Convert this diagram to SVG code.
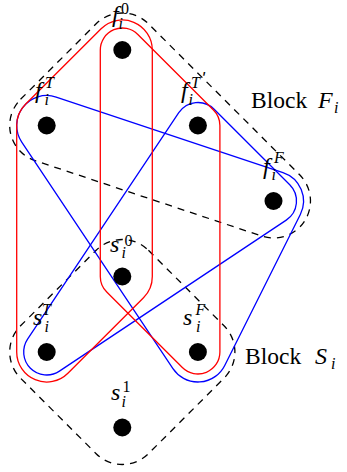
<svg xmlns="http://www.w3.org/2000/svg" width="347" height="472" viewBox="0 0 347 472">
<style>
.edge{fill:none;stroke-width:1.3}
.red{stroke:#ff0000}
.blue{stroke:#0000ff}
.blk{stroke:#000;stroke-dasharray:7 6}
.dot{fill:#000}
text{font-family:"Liberation Serif","Times New Roman",serif;fill:#000}
.m{font-style:italic;font-size:24px}
.sc{font-size:16px}
.si{font-style:italic;font-size:16px}
.pr{font-family:"Liberation Sans",sans-serif;font-size:17px;font-style:italic}
.lab{font-size:23.5px}
</style>
<rect width="347" height="472" fill="#fff"/>
<g id="connectors">
<path id="blockF" class="edge blk" d="M20.55,99.32 L96.15,23.82 A37,37 0 0 1 148.44,23.82 L299.64,174.82 A37,37 0 0 1 261.82,236.11 L35.02,160.61 A37,37 0 0 1 20.55,99.32 Z"/>
<path id="blockS" class="edge blk" d="M148.45,250.32 L224.05,325.82 A37,37 0 0 1 224.05,378.18 L148.45,453.68 A37,37 0 0 1 96.15,453.68 L20.55,378.18 A37,37 0 0 1 20.55,325.82 L96.15,250.32 A37,37 0 0 1 148.45,250.32 Z"/>
<path id="blue2" class="edge blue" d="M56.17,97.04 L282.97,172.54 A30,30 0 0 1 300.33,214.43 L224.73,365.43 A30,30 0 0 1 172.95,368.66 L21.75,142.16 A30,30 0 0 1 56.17,97.04 Z"/>
<path id="blue1" class="edge blue" d="M214.15,109.23 L289.75,184.73 A23,23 0 0 1 286.25,220.15 L59.45,371.15 A23,23 0 0 1 27.57,339.23 L178.77,112.73 A23,23 0 0 1 214.15,109.23 Z"/>
<path id="redA" class="edge red" d="M152.3,50 L152.3,276.5 A30,30 0 0 1 143.5,297.73 L67.9,373.23 A30,30 0 0 1 16.7,352 L16.7,125.5 A30,30 0 0 1 25.5,104.27 L101.1,28.77 A30,30 0 0 1 152.3,50 Z"/>
<path id="redB" class="edge red" d="M137.85,34.43 L213.45,109.93 A22,22 0 0 1 219.9,125.5 L219.9,352 A22,22 0 0 1 182.35,367.57 L106.75,292.07 A22,22 0 0 1 100.3,276.5 L100.3,50 A22,22 0 0 1 137.85,34.43 Z"/>
</g>
<g id="f0">
<circle class="dot" cx="122.3" cy="50" r="9"/>
<text class="m" x="112" y="22">f</text><text class="sc" x="121" y="13.5">0</text><text class="si" x="118.5" y="28.5">i</text>
</g>
<g id="fT">
<circle class="dot" cx="46.7" cy="125.5" r="9"/>
<text class="m" x="35" y="98">f</text><text class="si" x="45" y="87.5">T</text><text class="si" x="44.5" y="104.5">i</text>
</g>
<g id="fTp">
<circle class="dot" cx="197.9" cy="125.5" r="9"/>
<text class="m" x="181" y="98">f</text><text class="si" x="191" y="87.5">T</text><text class="pr" x="201.5" y="84">'</text><text class="si" x="188.5" y="105">i</text>
</g>
<g id="fF">
<circle class="dot" cx="273.5" cy="201" r="9"/>
<text class="m" x="263" y="174">f</text><text class="si" x="274" y="163">F</text><text class="si" x="271.5" y="180">i</text>
</g>
<g id="s0">
<circle class="dot" cx="122.3" cy="276.5" r="9"/>
<text class="m" x="110" y="252">s</text><text class="sc" x="124.5" y="246">0</text><text class="si" x="121.5" y="258">i</text>
</g>
<g id="sT">
<circle class="dot" cx="46.7" cy="352" r="9"/>
<text class="m" x="33" y="325">s</text><text class="si" x="42" y="315">T</text><text class="si" x="44.5" y="332">i</text>
</g>
<g id="sF">
<circle class="dot" cx="197.9" cy="352" r="9"/>
<text class="m" x="183" y="325">s</text><text class="si" x="195.5" y="315">F</text><text class="si" x="196" y="332">i</text>
</g>
<g id="s1">
<circle class="dot" cx="122.3" cy="427.5" r="9"/>
<text class="m" x="111" y="400">s</text><text class="sc" x="122.5" y="392">1</text><text class="si" x="121.5" y="407">i</text>
</g>
<g id="labelF">
<text class="lab" x="251" y="108">Block</text><text class="m" x="318" y="108">F</text><text class="si" x="334" y="113">i</text>
</g>
<g id="labelS">
<text class="lab" x="245" y="364">Block</text><text class="m" x="315" y="364">S</text><text class="si" x="331" y="369">i</text>
</g>
</svg>
